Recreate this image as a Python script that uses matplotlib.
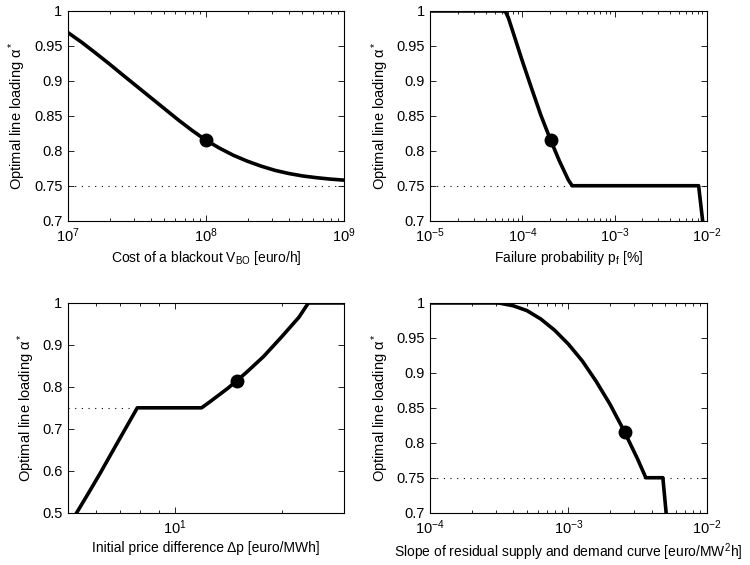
import matplotlib
matplotlib.use("Agg")
import matplotlib.pyplot as plt
from matplotlib.ticker import NullFormatter, LogLocator, MultipleLocator

plt.rcParams['font.family'] = ['Liberation Sans', 'DejaVu Sans']
plt.rcParams['mathtext.fontset'] = 'custom'
plt.rcParams['mathtext.rm'] = 'Liberation Sans'
plt.rcParams['mathtext.it'] = 'Liberation Sans:italic'
plt.rcParams['mathtext.bf'] = 'Liberation Sans:bold'
plt.rcParams['font.size'] = 10

# ---- Panel 1: cost of a blackout ----
vbo_x = [1.0e7, 1.26e7, 1.58e7, 2.0e7, 2.51e7, 3.16e7, 3.98e7, 5.01e7, 6.31e7,
         7.94e7, 1.0e8, 1.26e8, 1.58e8, 2.0e8, 2.51e8, 3.16e8, 3.98e8, 5.01e8,
         6.31e8, 7.94e8, 1.0e9]
vbo_y = [0.969, 0.955, 0.940, 0.924, 0.908, 0.892, 0.876, 0.860, 0.844, 0.829,
         0.815, 0.8035, 0.7935, 0.785, 0.778, 0.772, 0.7675, 0.764, 0.7615,
         0.7595, 0.758]
vbo_nom = (1e8, 0.815)

# ---- Panel 2: failure probability ----
pf_x = [1e-5, 6.21e-5, 6.61e-5, 7.05e-5, 7.94e-5, 1.0e-4, 1.26e-4, 1.585e-4,
        2.0e-4, 2.51e-4, 3.16e-4, 3.47e-4, 8.18e-3, 1e-2]
pf_y = [1.0, 1.0, 0.998, 0.990, 0.969, 0.928, 0.889, 0.851, 0.817, 0.786,
        0.758, 0.750, 0.750, 0.65]
pf_nom = (2.05e-4, 0.815)

# ---- Panel 3: initial price difference ----
dp_x = [5.0, 5.29, 5.75, 6.15, 6.86, 7.84, 11.9, 12.59, 14.13, 15.85, 17.78,
        19.95, 22.39, 23.8, 30.0]
dp_y = [0.466, 0.50, 0.551, 0.593, 0.664, 0.75, 0.75, 0.765, 0.797, 0.833,
        0.872, 0.918, 0.966, 1.0, 1.0]
dp_nom = (15.0, 0.815)
dp_ref_x = [5.0, 11.9]

# ---- Panel 4: slope of residual supply/demand curve ----
sl_x = [1e-4, 2.95e-4, 3.16e-4, 3.98e-4, 5.01e-4, 6.31e-4, 7.94e-4, 1.0e-3,
        1.26e-3, 1.585e-3, 2.0e-3, 2.51e-3, 3.16e-3, 3.63e-3, 4.82e-3, 5.09e-3,
        5.3e-3]
sl_y = [1.0, 1.0, 0.9998, 0.996, 0.989, 0.977, 0.961, 0.941, 0.917, 0.888,
        0.855, 0.818, 0.777, 0.750, 0.750, 0.70, 0.66]
sl_nom = (2.56e-3, 0.815)

ref_level = 0.75
ylab = 'Optimal line loading α$^*$'

panels = [
    dict(x=vbo_x, y=vbo_y, nom=vbo_nom, xlim=(1e7, 1e9), ylim=(0.7, 1.0), ystep=0.05,
         ref_x=(1e7, 1e9), xlabel='Cost of a blackout V$_{\\mathrm{BO}}$ [euro/h]',
         pos=[0.0907, 0.6094, 0.368, 0.3712]),
    dict(x=pf_x, y=pf_y, nom=pf_nom, xlim=(1e-5, 1e-2), ylim=(0.7, 1.0), ystep=0.05,
         ref_x=(1e-5, 1e-2), xlabel='Failure probability p$_{\\mathrm{f}}$ [%]',
         pos=[0.5737, 0.6094, 0.3685, 0.3712]),
    dict(x=dp_x, y=dp_y, nom=dp_nom, xlim=(5, 30), ylim=(0.5, 1.0), ystep=0.1,
         ref_x=dp_ref_x, xlabel='Initial price difference Δp [euro/MWh]',
         pos=[0.0907, 0.0926, 0.368, 0.3712]),
    dict(x=sl_x, y=sl_y, nom=sl_nom, xlim=(1e-4, 1e-2), ylim=(0.7, 1.0), ystep=0.05,
         ref_x=(1e-4, 1e-2), xlabel='Slope of residual supply and demand curve [euro/MW$^2$h]',
         pos=[0.5737, 0.0926, 0.3685, 0.3712]),
]

fig = plt.figure(figsize=(7.5, 5.65), dpi=100)
for p in panels:
    ax = fig.add_axes(p['pos'])
    ax.set_xscale('log')
    ax.plot(p['ref_x'], [ref_level, ref_level], color='black',
            linestyle=(0, (1, 5)), linewidth=0.8)
    ax.plot(p['x'], p['y'], color='black', linewidth=2.6,
            solid_joinstyle='round', solid_capstyle='butt')
    ax.plot([p['nom'][0]], [p['nom'][1]], 'o', color='black', markersize=9)
    ax.set_xlim(*p['xlim'])
    ax.set_ylim(*p['ylim'])
    ax.yaxis.set_major_locator(MultipleLocator(p['ystep']))
    ax.yaxis.set_major_formatter(plt.FuncFormatter(lambda v, _: ('%g' % round(v, 3))))
    ax.xaxis.set_major_locator(LogLocator(base=10, numticks=10))
    ax.xaxis.set_minor_locator(LogLocator(base=10, subs=range(2, 10), numticks=20))
    ax.xaxis.set_minor_formatter(NullFormatter())
    ax.tick_params(which='both', direction='in', top=True, right=True,
                   labelsize=10.5, width=0.6, pad=4)
    ax.tick_params(which='major', length=4)
    ax.tick_params(which='minor', length=2.5)
    for s in ax.spines.values():
        s.set_linewidth(0.8)
    ax.set_xlabel(p['xlabel'], fontsize=10, labelpad=3)
    ax.set_ylabel(ylab, fontsize=10.5, labelpad=4)

fig.savefig('out.png', dpi=100)
